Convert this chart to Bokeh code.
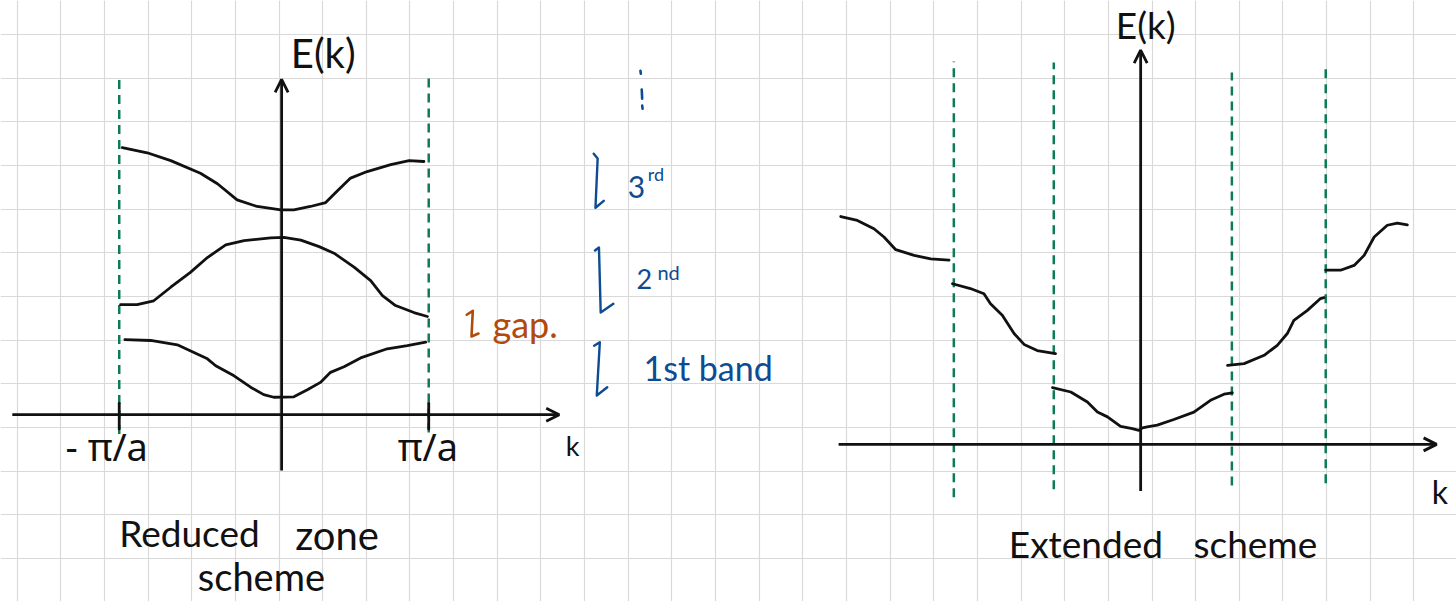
from bokeh.plotting import figure
from bokeh.models import Range1d, FixedTicker, Arrow, OpenHead
from bokeh.core.properties import value
from bokeh.embed import file_html
from bokeh.resources import INLINE

# ---------------------------------------------------------------------------
# Band sketches, all values in notebook grid squares, measured from each
# panel's own origin (k along the horizontal axis, E up the vertical axis).
# ---------------------------------------------------------------------------

# Reduced zone scheme: three bands folded into the first Brillouin zone
red_k1 = [-3.59, -3.00, -2.39, -1.70, -1.51, -1.09, -0.71, -0.41, -0.18, 0.28,
          0.59, 0.89, 1.12, 1.43, 1.81, 2.42, 2.88, 3.30]
red_E1 = [1.72, 1.70, 1.60, 1.28, 1.12, 0.89, 0.63, 0.46, 0.40, 0.41,
          0.57, 0.74, 0.97, 1.10, 1.30, 1.51, 1.58, 1.66]
red_k2 = [-3.69, -3.31, -2.93, -2.54, -2.09, -1.70, -1.28, -0.86, -0.25, 0.05,
          0.44, 0.86, 1.20, 1.66, 2.04, 2.31, 2.61, 3.03, 3.34]
red_E2 = [2.52, 2.52, 2.61, 2.92, 3.26, 3.60, 3.89, 3.99, 4.05, 4.06,
          4.00, 3.85, 3.70, 3.38, 3.07, 2.73, 2.50, 2.34, 2.25]
red_k3 = [-3.65, -3.08, -2.54, -1.86, -1.47, -1.02, -0.56, -0.02, 0.28,
          0.66, 1.01, 1.28, 1.58, 1.96, 2.50, 2.92, 3.26]
red_E3 = [6.12, 6.00, 5.82, 5.53, 5.29, 4.92, 4.77, 4.69, 4.69,
          4.77, 4.86, 5.13, 5.42, 5.57, 5.73, 5.82, 5.80]

red_zone_edges = [-3.72, 3.37]
red_edge_top = [7.70, 7.77]
red_edge_bottom = [-0.44, -0.41]
red_tick_labels = ["- π/a", "π/a"]

# Extended zone scheme: each band drawn in its own zone
ext_k1 = [-2.02, -1.60, -1.22, -0.99, -0.76, -0.46, -0.19, -0.04, 0.04,
          0.15, 0.38, 0.76, 1.22, 1.60, 1.91, 2.10]
ext_E1 = [1.30, 1.20, 0.97, 0.74, 0.63, 0.41, 0.36, 0.32, 0.38,
          0.40, 0.44, 0.57, 0.74, 1.01, 1.15, 1.18]
ext_k2_left = [-4.31, -3.90, -3.59, -3.44, -3.17, -2.90, -2.67, -2.37, -1.95]
ext_E2_left = [3.68, 3.57, 3.45, 3.22, 2.96, 2.54, 2.29, 2.15, 2.08]
ext_k2_right = [1.99, 2.37, 2.83, 3.13, 3.36, 3.51, 3.82, 4.12, 4.20]
ext_E2_right = [1.81, 1.85, 2.04, 2.27, 2.54, 2.84, 3.07, 3.34, 3.36]
ext_k3_left = [-6.87, -6.49, -6.11, -5.88, -5.61, -5.19, -4.81, -4.39]
ext_E3_left = [5.22, 5.13, 4.94, 4.75, 4.46, 4.33, 4.25, 4.22]
ext_k3_right = [4.24, 4.58, 4.89, 5.12, 5.35, 5.65, 5.88, 6.11]
ext_E3_right = [3.99, 3.99, 4.10, 4.33, 4.75, 5.02, 5.07, 5.03]

ext_zone_edges = [-4.28, -1.99, 2.09, 4.24]
ext_edge_top = [8.77, 8.75, 8.52, 8.64]
ext_edge_bottom = [-1.21, -1.03, -0.94, -0.89]

# ---------------------------------------------------------------------------
GRID = 43.65                     # size of one notebook square, px
W, H = 1456, 601
LEFT = (6.06, 4.29)              # origin of the reduced-zone panel
RIGHT = (25.74, 3.61)            # origin of the extended-zone panel
BASELINE_SHIFT = 0.45            # text box offset below the given baseline, in em

INK = "#111111"
GREEN = "#0f7a5a"
BLUE = "#0d4c92"
BROWN = "#b24a0c"
HAND = value("Lato")
PI_FONT = value("Noto Sans")


def at(origin, ks, Es):
    ox, oy = origin
    return [ox + k for k in ks], [oy + e for e in Es]


p = figure(width=W, height=H, output_backend="svg", toolbar_location=None,
           x_range=Range1d(-16.6 / GRID, (W - 16.6) / GRID),
           y_range=Range1d(0.45 / GRID, 601.45 / GRID),
           min_border=0, background_fill_color="white",
           border_fill_color="white", outline_line_color=None)
p.xaxis.visible = False
p.yaxis.visible = False
p.xgrid.ticker = FixedTicker(ticks=list(range(-1, 35)))
p.ygrid.ticker = FixedTicker(ticks=list(range(-1, 16)))
p.grid.grid_line_color = "#d9d9d9"
p.grid.grid_line_width = 1.2

LW = 2.8


def curve(origin, ks, Es, color=INK, width=LW):
    xs, ys = at(origin, ks, Es)
    p.line(xs, ys, line_color=color, line_width=width,
           line_join="round", line_cap="round")


def axis_arrow(origin, k0, E0, k1, E1):
    ox, oy = origin
    p.add_layout(Arrow(x_start=ox + k0, y_start=oy + E0, x_end=ox + k1, y_end=oy + E1,
                       line_color=INK, line_width=LW,
                       end=OpenHead(size=13, line_width=LW, line_color=INK)))


def label(origin, k, E, txt, size, color=INK, font=HAND):
    # E is the baseline of the text, in grid squares
    xs, ys = at(origin, [k], [E + BASELINE_SHIFT * size / GRID])
    p.text(xs, ys, text=[txt], text_font=font, text_font_size=f"{size}px",
           text_color=color, text_baseline="alphabetic", text_align="left")


# ---------------- Reduced zone scheme ----------------
for ke, top, bot in zip(red_zone_edges, red_edge_top, red_edge_bottom):
    xs, ys = at(LEFT, [ke, ke], [bot, top])
    p.line(xs, ys, line_color=GREEN, line_width=2.5, line_dash="9 6")

axis_arrow(LEFT, -6.17, 0, 6.36, 0)
axis_arrow(LEFT, 0, -1.28, 0, 7.68)
for ke in red_zone_edges:
    curve(LEFT, [ke, ke], [-0.33, 0.26])

for ks, Es in [(red_k1, red_E1), (red_k2, red_E2), (red_k3, red_E3)]:
    curve(LEFT, ks, Es)

label(LEFT, 0.21, 7.88, "E(k)", 40)
label(LEFT, -4.95, -1.12, red_tick_labels[0], 38, font=PI_FONT)
label(LEFT, 2.66, -1.12, red_tick_labels[1], 38, font=PI_FONT)
label(LEFT, 6.51, -0.99, "k", 27)
label(LEFT, -3.72, -3.09, "Reduced", 37)
label(LEFT, 0.31, -3.16, "zone", 40)
label(LEFT, -1.92, -4.08, "scheme", 38)

# band brackets and their names
brackets = [
    ([7.15, 7.24, 7.19, 7.38], [5.98, 5.87, 4.74, 4.90]),
    ([7.18, 7.27, 7.31, 7.60], [3.76, 3.83, 2.34, 2.54]),
    ([7.16, 7.29, 7.22, 7.46], [1.58, 1.66, 0.44, 0.63]),
]
for ks, Es in brackets:
    curve(LEFT, ks, Es, color=BLUE, width=2.4)
curve(LEFT, [4.24, 4.38, 4.35, 4.51], [2.29, 2.38, 1.79, 1.86], color=BROWN, width=2.6)

for ks, Es in [([8.22, 8.23], [7.88, 7.81]), ([8.25, 8.26], [7.45, 7.24]),
               ([8.26, 8.27], [7.08, 7.01])]:
    curve(LEFT, ks, Es, color=BLUE, width=2.6)

label(LEFT, 7.93, 4.90, "3", 30, BLUE)
label(LEFT, 8.39, 5.32, "rd", 18, BLUE)
label(LEFT, 8.13, 2.84, "2", 27, BLUE)
label(LEFT, 8.61, 3.07, "nd", 20, BLUE)
label(LEFT, 8.29, 0.73, "1st band", 34, BLUE)
label(LEFT, 4.83, 1.70, "gap.", 36, BROWN)

# ---------------- Extended zone scheme ----------------
for ke, top, bot in zip(ext_zone_edges, ext_edge_top, ext_edge_bottom):
    xs, ys = at(RIGHT, [ke, ke], [bot, top])
    p.line(xs, ys, line_color=GREEN, line_width=2.5, line_dash="9 6")

axis_arrow(RIGHT, -6.92, 0, 6.78, 0)
axis_arrow(RIGHT, 0, -1.07, 0, 9.03)

for ks, Es in [(ext_k1, ext_E1), (ext_k2_left, ext_E2_left), (ext_k2_right, ext_E2_right),
               (ext_k3_left, ext_E3_left), (ext_k3_right, ext_E3_right)]:
    curve(RIGHT, ks, Es)

label(RIGHT, -0.57, 9.23, "E(k)", 37)
label(RIGHT, 6.67, -1.40, "k", 32)
label(RIGHT, -3.02, -2.66, "Extended", 37)
label(RIGHT, 1.21, -2.66, "scheme", 37)

open("out.html", "w").write(file_html(p, INLINE))
